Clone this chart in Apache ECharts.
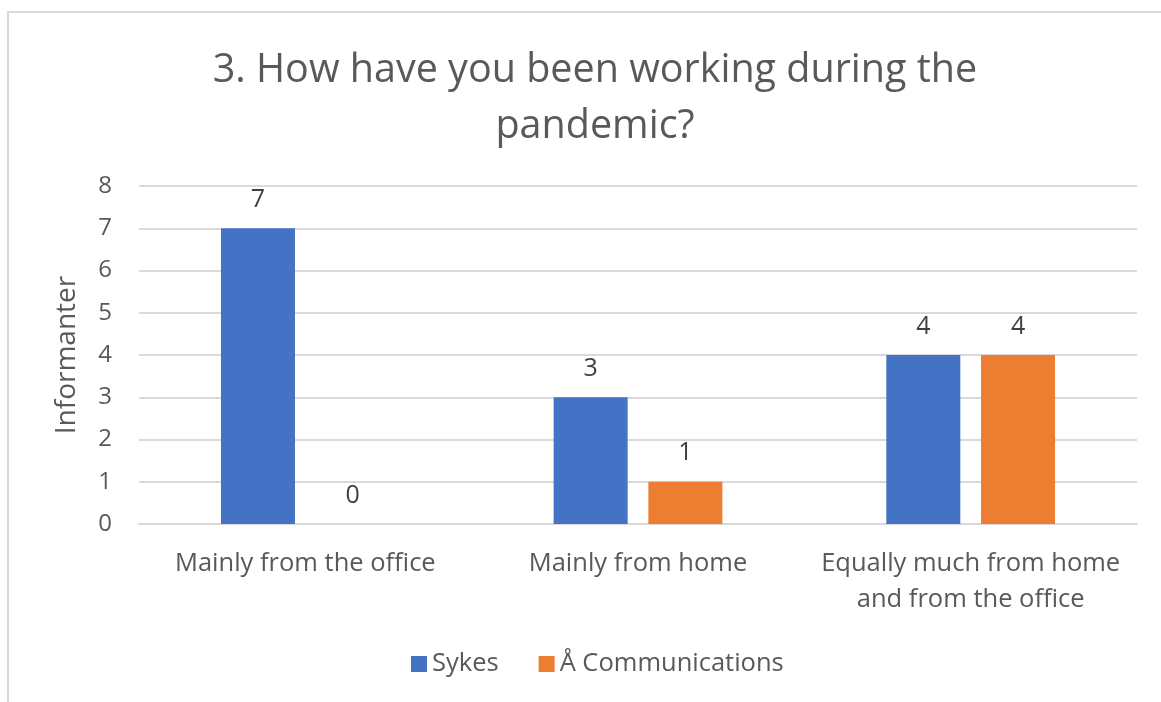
<!DOCTYPE html>
<html>
<head>
<meta charset="utf-8">
<script src="https://cdn.jsdelivr.net/npm/echarts@6/dist/echarts.min.js"></script>
<style>
  html, body { margin: 0; padding: 0; background: #fff; }
  #frame { position: absolute; left: 7px; top: 11px; width: 1200px; height: 760px;
           border-left: 2px solid #d9d9d9; border-top: 2px solid #d9d9d9; }
  #chart { position: absolute; left: 0; top: 0; width: 1161px; height: 702px; }
</style>
</head>
<body>
<div id="frame"></div>
<div id="chart"></div>
<script>
// Survey answers per work arrangement
const categories = ['Mainly from the office', 'Mainly from home', 'Equally much from home\nand from the office'];
const sykes = [7, 3, 4];
const aCommunications = [0, 1, 4];
const seriesNames = ['Sykes', 'Å Communications'];
const yTicks = { min: 0, max: 8, interval: 1 };

const FONT = '"Open Sans", "Noto Sans", sans-serif';
const TEXT = '#595959';

const chart = echarts.init(document.getElementById('chart'), null, { renderer: 'canvas' });

const labelStyle = {
  show: true,
  position: 'top',
  distance: 16,
  color: '#404040',
  fontFamily: FONT,
  fontSize: 25
};

chart.setOption({
  animation: false,
  backgroundColor: 'transparent',
  title: {
    text: '3. How have you been working during the\npandemic?',
    left: 590,
    top: 38,
    textAlign: 'center',
    textStyle: { fontFamily: FONT, fontSize: 39.5, fontWeight: 'normal', color: TEXT, lineHeight: 56 }
  },
  legend: {
    top: 646,
    left: 406,
    itemWidth: 16,
    itemHeight: 16,
    itemGap: 40,
    icon: 'rect',
    textStyle: { fontFamily: FONT, fontSize: 25.5, color: TEXT, padding: [0, 0, 0, 0] },
    data: seriesNames
  },
  grid: { left: 139, right: 24, top: 186, bottom: 178, containLabel: false },
  xAxis: {
    type: 'category',
    data: categories,
    axisLine: { show: true, lineStyle: { color: '#d9d9d9', width: 2 } },
    axisTick: { show: false },
    axisLabel: { fontFamily: FONT, fontSize: 25.5, color: TEXT, margin: 22, lineHeight: 36, interval: 0 }
  },
  yAxis: {
    type: 'value',
    min: yTicks.min,
    max: yTicks.max,
    interval: yTicks.interval,
    name: 'Informanter',
    nameLocation: 'middle',
    nameGap: 58,
    nameTextStyle: { fontFamily: FONT, fontSize: 28, color: TEXT },
    axisLine: { show: false },
    axisTick: { show: false },
    axisLabel: { fontFamily: FONT, fontSize: 24, color: TEXT, margin: 27 },
    splitLine: { lineStyle: { color: '#d9d9d9', width: 2 } }
  },
  series: [
    {
      name: seriesNames[0], type: 'bar', data: sykes,
      barWidth: 74, barGap: '28%',
      itemStyle: { color: '#4472C4' },
      label: labelStyle
    },
    {
      name: seriesNames[1], type: 'bar', data: aCommunications,
      barWidth: 74,
      itemStyle: { color: '#ED7D31' },
      label: labelStyle
    }
  ]
});
</script>
</body>
</html>
